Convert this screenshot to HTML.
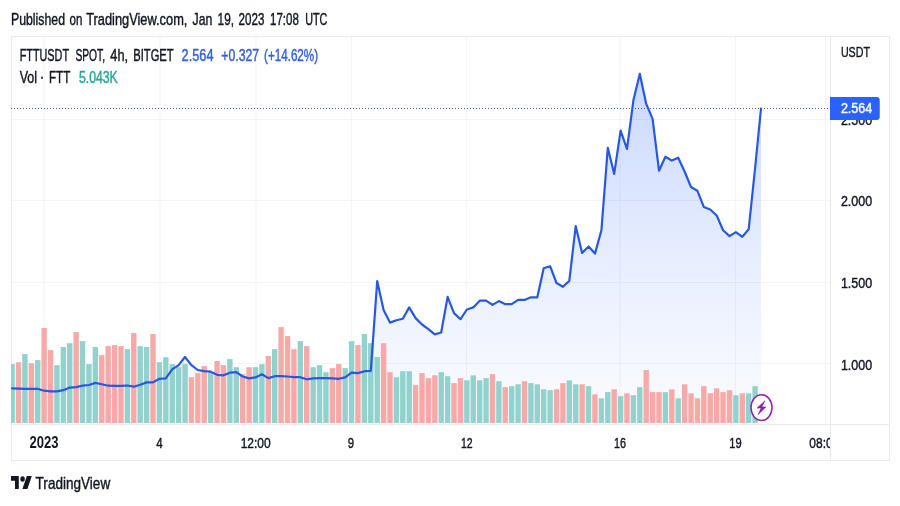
<!DOCTYPE html><html><head><meta charset="utf-8"><title>FTTUSDT chart</title>
<style>html,body{margin:0;padding:0;background:#fff}svg{display:block}text{font-family:"Liberation Sans",sans-serif}</style></head><body>
<svg width="900" height="506" viewBox="0 0 900 506">
<defs><linearGradient id="ag" gradientUnits="userSpaceOnUse" x1="0" y1="37" x2="0" y2="424"><stop offset="0" stop-color="#2962ff" stop-opacity="0.28"/><stop offset="0.55" stop-color="#2962ff" stop-opacity="0.115"/><stop offset="1" stop-color="#2962ff" stop-opacity="0.015"/></linearGradient>
<clipPath id="cp"><rect x="11" y="37" width="819.5" height="387"/></clipPath></defs>
<rect width="900" height="506" fill="#fff"/>
<g fill="#f3f4f7">
<rect x="43.5" y="37" width="1" height="387"/>
<rect x="159.5" y="37" width="1" height="387"/>
<rect x="255.5" y="37" width="1" height="387"/>
<rect x="351.0" y="37" width="1" height="387"/>
<rect x="466.0" y="37" width="1" height="387"/>
<rect x="619.5" y="37" width="1" height="387"/>
<rect x="735.0" y="37" width="1" height="387"/>
<rect x="825.0" y="37" width="1" height="387"/>
<rect x="11" y="119" width="819" height="1"/>
<rect x="11" y="200" width="819" height="1"/>
<rect x="11" y="282" width="819" height="1"/>
<rect x="11" y="363" width="819" height="1"/>
</g>
<g fill="#e9eaee">
<rect x="11" y="36" width="879" height="1"/>
<rect x="11" y="36" width="1" height="425"/>
<rect x="889" y="36" width="1" height="425"/>
<rect x="11" y="460" width="879" height="1"/>
<rect x="11" y="424" width="879" height="1"/>
<rect x="830" y="36" width="1" height="425"/>
</g>
<g clip-path="url(#cp)">
<path d="M12.1 388.3 L18.5 388.6 L24.9 388.8 L31.3 388.8 L37.7 388.8 L44.1 390.7 L50.5 391.4 L56.9 391.4 L63.3 390.2 L69.7 387.6 L76.1 387.1 L82.6 385.7 L89.0 385.0 L95.4 382.9 L101.8 384.3 L108.2 385.7 L114.6 385.9 L121.0 385.9 L127.4 385.5 L133.8 386.7 L140.2 384.8 L146.6 382.4 L153.0 382.4 L159.4 378.8 L165.8 378.4 L172.2 369.3 L178.6 365.1 L185.0 357.0 L191.4 365.1 L197.8 370.0 L204.2 371.2 L210.7 371.7 L217.1 374.8 L223.5 375.3 L229.9 372.7 L236.3 372.2 L242.7 376.5 L249.1 378.4 L255.5 377.4 L261.9 374.3 L268.3 378.1 L274.7 376.2 L281.1 376.2 L287.5 376.5 L293.9 377.2 L300.3 377.2 L306.7 379.3 L313.1 378.4 L319.5 378.1 L325.9 378.1 L332.4 378.4 L338.8 378.8 L345.2 377.4 L351.6 372.7 L358.0 373.1 L364.4 371.2 L370.8 370.8 L377.2 281.0 L383.6 310.0 L390.0 322.6 L396.4 320.2 L402.8 318.8 L409.2 307.4 L415.6 318.1 L422.0 324.5 L428.4 329.2 L434.8 334.4 L441.2 332.5 L447.6 296.9 L454.0 313.1 L460.5 319.2 L466.9 309.5 L473.3 307.4 L479.7 300.7 L486.1 300.6 L492.5 304.9 L498.9 301.1 L505.3 304.2 L511.7 304.2 L518.1 299.9 L524.5 299.9 L530.9 297.3 L537.3 297.3 L543.7 268.3 L550.1 266.2 L556.5 283.0 L562.9 286.8 L569.3 280.9 L575.7 226.1 L582.1 252.9 L588.6 246.5 L595.0 253.6 L601.4 230.3 L607.8 147.8 L614.2 173.9 L620.6 130.7 L627.0 149.0 L633.4 100.3 L639.8 73.8 L646.2 103.9 L652.6 118.9 L659.0 170.7 L665.4 156.7 L671.8 160.6 L678.2 157.7 L684.6 171.5 L691.0 187.0 L697.4 190.8 L703.8 206.9 L710.2 209.5 L716.7 215.5 L723.1 230.2 L729.5 236.1 L735.9 232.1 L742.3 236.8 L748.7 229.2 L755.1 168 L761.0 108.5 L761.0 424 L12.1 424 Z" fill="url(#ag)"/>
<rect x="9.40" y="364.1" width="5.4" height="58.9" fill="#92d2cc"/>
<rect x="15.80" y="362.2" width="5.4" height="60.8" fill="#f7a9a7"/>
<rect x="22.21" y="354.1" width="5.4" height="68.9" fill="#92d2cc"/>
<rect x="28.61" y="363.2" width="5.4" height="59.8" fill="#f7a9a7"/>
<rect x="35.02" y="360.1" width="5.4" height="62.9" fill="#92d2cc"/>
<rect x="41.42" y="328.0" width="5.4" height="95.0" fill="#f7a9a7"/>
<rect x="47.83" y="350.1" width="5.4" height="72.9" fill="#f7a9a7"/>
<rect x="54.23" y="365.1" width="5.4" height="57.9" fill="#92d2cc"/>
<rect x="60.64" y="347.0" width="5.4" height="76.0" fill="#92d2cc"/>
<rect x="67.05" y="343.2" width="5.4" height="79.8" fill="#92d2cc"/>
<rect x="73.45" y="332.1" width="5.4" height="90.9" fill="#f7a9a7"/>
<rect x="79.85" y="341.1" width="5.4" height="81.9" fill="#92d2cc"/>
<rect x="86.26" y="364.1" width="5.4" height="58.9" fill="#92d2cc"/>
<rect x="92.66" y="347.0" width="5.4" height="76.0" fill="#92d2cc"/>
<rect x="99.07" y="355.1" width="5.4" height="67.9" fill="#f7a9a7"/>
<rect x="105.47" y="346.1" width="5.4" height="76.9" fill="#f7a9a7"/>
<rect x="111.88" y="345.1" width="5.4" height="77.9" fill="#f7a9a7"/>
<rect x="118.28" y="346.1" width="5.4" height="76.9" fill="#f7a9a7"/>
<rect x="124.69" y="349.2" width="5.4" height="73.8" fill="#92d2cc"/>
<rect x="131.10" y="333.0" width="5.4" height="90.0" fill="#f7a9a7"/>
<rect x="137.50" y="346.1" width="5.4" height="76.9" fill="#92d2cc"/>
<rect x="143.91" y="347.0" width="5.4" height="76.0" fill="#92d2cc"/>
<rect x="150.31" y="334.0" width="5.4" height="89.0" fill="#f7a9a7"/>
<rect x="156.72" y="362.2" width="5.4" height="60.8" fill="#92d2cc"/>
<rect x="163.12" y="357.2" width="5.4" height="65.8" fill="#92d2cc"/>
<rect x="169.53" y="364.1" width="5.4" height="58.9" fill="#92d2cc"/>
<rect x="175.93" y="367.2" width="5.4" height="55.8" fill="#92d2cc"/>
<rect x="182.34" y="364.1" width="5.4" height="58.9" fill="#92d2cc"/>
<rect x="188.74" y="377.2" width="5.4" height="45.8" fill="#f7a9a7"/>
<rect x="195.15" y="373.1" width="5.4" height="49.9" fill="#f7a9a7"/>
<rect x="201.55" y="366.0" width="5.4" height="57.0" fill="#f7a9a7"/>
<rect x="207.96" y="372.2" width="5.4" height="50.8" fill="#92d2cc"/>
<rect x="214.36" y="361.0" width="5.4" height="62.0" fill="#f7a9a7"/>
<rect x="220.77" y="365.1" width="5.4" height="57.9" fill="#f7a9a7"/>
<rect x="227.17" y="359.1" width="5.4" height="63.9" fill="#92d2cc"/>
<rect x="233.58" y="367.2" width="5.4" height="55.8" fill="#92d2cc"/>
<rect x="239.98" y="374.1" width="5.4" height="48.9" fill="#f7a9a7"/>
<rect x="246.39" y="367.2" width="5.4" height="55.8" fill="#f7a9a7"/>
<rect x="252.79" y="367.2" width="5.4" height="55.8" fill="#92d2cc"/>
<rect x="259.20" y="364.1" width="5.4" height="58.9" fill="#92d2cc"/>
<rect x="265.60" y="356.0" width="5.4" height="67.0" fill="#f7a9a7"/>
<rect x="272.01" y="349.2" width="5.4" height="73.8" fill="#92d2cc"/>
<rect x="278.41" y="327.1" width="5.4" height="95.9" fill="#f7a9a7"/>
<rect x="284.82" y="336.1" width="5.4" height="86.9" fill="#f7a9a7"/>
<rect x="291.22" y="349.2" width="5.4" height="73.8" fill="#f7a9a7"/>
<rect x="297.63" y="341.1" width="5.4" height="81.9" fill="#92d2cc"/>
<rect x="304.03" y="346.1" width="5.4" height="76.9" fill="#f7a9a7"/>
<rect x="310.44" y="367.2" width="5.4" height="55.8" fill="#92d2cc"/>
<rect x="316.84" y="365.1" width="5.4" height="57.9" fill="#92d2cc"/>
<rect x="323.25" y="372.2" width="5.4" height="50.8" fill="#92d2cc"/>
<rect x="329.65" y="368.1" width="5.4" height="54.9" fill="#f7a9a7"/>
<rect x="336.06" y="364.1" width="5.4" height="58.9" fill="#f7a9a7"/>
<rect x="342.46" y="368.1" width="5.4" height="54.9" fill="#92d2cc"/>
<rect x="348.87" y="341.1" width="5.4" height="81.9" fill="#92d2cc"/>
<rect x="355.27" y="345.1" width="5.4" height="77.9" fill="#f7a9a7"/>
<rect x="361.68" y="334.0" width="5.4" height="89.0" fill="#92d2cc"/>
<rect x="368.08" y="343.2" width="5.4" height="79.8" fill="#92d2cc"/>
<rect x="374.49" y="357.0" width="5.4" height="66.0" fill="#92d2cc"/>
<rect x="380.89" y="343.2" width="5.4" height="79.8" fill="#f7a9a7"/>
<rect x="387.30" y="372.2" width="5.4" height="50.8" fill="#f7a9a7"/>
<rect x="393.70" y="377.2" width="5.4" height="45.8" fill="#92d2cc"/>
<rect x="400.11" y="371.2" width="5.4" height="51.8" fill="#92d2cc"/>
<rect x="406.51" y="371.2" width="5.4" height="51.8" fill="#92d2cc"/>
<rect x="412.92" y="385.2" width="5.4" height="37.8" fill="#f7a9a7"/>
<rect x="419.32" y="373.1" width="5.4" height="49.9" fill="#f7a9a7"/>
<rect x="425.73" y="378.1" width="5.4" height="44.9" fill="#f7a9a7"/>
<rect x="432.13" y="375.3" width="5.4" height="47.7" fill="#f7a9a7"/>
<rect x="438.54" y="372.2" width="5.4" height="50.8" fill="#92d2cc"/>
<rect x="444.94" y="376.2" width="5.4" height="46.8" fill="#92d2cc"/>
<rect x="451.35" y="383.1" width="5.4" height="39.9" fill="#f7a9a7"/>
<rect x="457.75" y="378.1" width="5.4" height="44.9" fill="#f7a9a7"/>
<rect x="464.16" y="380.3" width="5.4" height="42.7" fill="#92d2cc"/>
<rect x="470.56" y="375.3" width="5.4" height="47.7" fill="#92d2cc"/>
<rect x="476.97" y="380.3" width="5.4" height="42.7" fill="#92d2cc"/>
<rect x="483.37" y="378.1" width="5.4" height="44.9" fill="#92d2cc"/>
<rect x="489.78" y="374.1" width="5.4" height="48.9" fill="#f7a9a7"/>
<rect x="496.18" y="381.2" width="5.4" height="41.8" fill="#92d2cc"/>
<rect x="502.59" y="387.1" width="5.4" height="35.9" fill="#f7a9a7"/>
<rect x="508.99" y="386.2" width="5.4" height="36.8" fill="#92d2cc"/>
<rect x="515.39" y="384.3" width="5.4" height="38.7" fill="#92d2cc"/>
<rect x="521.80" y="381.2" width="5.4" height="41.8" fill="#f7a9a7"/>
<rect x="528.21" y="383.1" width="5.4" height="39.9" fill="#92d2cc"/>
<rect x="534.61" y="384.3" width="5.4" height="38.7" fill="#92d2cc"/>
<rect x="541.01" y="389.3" width="5.4" height="33.7" fill="#92d2cc"/>
<rect x="547.42" y="390.2" width="5.4" height="32.8" fill="#92d2cc"/>
<rect x="553.83" y="389.3" width="5.4" height="33.7" fill="#f7a9a7"/>
<rect x="560.23" y="383.1" width="5.4" height="39.9" fill="#f7a9a7"/>
<rect x="566.63" y="380.3" width="5.4" height="42.7" fill="#92d2cc"/>
<rect x="573.04" y="384.3" width="5.4" height="38.7" fill="#92d2cc"/>
<rect x="579.45" y="384.3" width="5.4" height="38.7" fill="#f7a9a7"/>
<rect x="585.85" y="386.2" width="5.4" height="36.8" fill="#92d2cc"/>
<rect x="592.25" y="394.3" width="5.4" height="28.7" fill="#f7a9a7"/>
<rect x="598.66" y="398.3" width="5.4" height="24.7" fill="#92d2cc"/>
<rect x="605.07" y="392.1" width="5.4" height="30.9" fill="#92d2cc"/>
<rect x="611.47" y="389.3" width="5.4" height="33.7" fill="#f7a9a7"/>
<rect x="617.88" y="396.2" width="5.4" height="26.8" fill="#92d2cc"/>
<rect x="624.28" y="393.3" width="5.4" height="29.7" fill="#f7a9a7"/>
<rect x="630.68" y="395.2" width="5.4" height="27.8" fill="#92d2cc"/>
<rect x="637.09" y="387.1" width="5.4" height="35.9" fill="#92d2cc"/>
<rect x="643.50" y="370.0" width="5.4" height="53.0" fill="#f7a9a7"/>
<rect x="649.90" y="392.1" width="5.4" height="30.9" fill="#f7a9a7"/>
<rect x="656.30" y="392.1" width="5.4" height="30.9" fill="#f7a9a7"/>
<rect x="662.71" y="392.1" width="5.4" height="30.9" fill="#92d2cc"/>
<rect x="669.12" y="389.3" width="5.4" height="33.7" fill="#f7a9a7"/>
<rect x="675.52" y="398.3" width="5.4" height="24.7" fill="#92d2cc"/>
<rect x="681.92" y="384.3" width="5.4" height="38.7" fill="#f7a9a7"/>
<rect x="688.33" y="393.3" width="5.4" height="29.7" fill="#f7a9a7"/>
<rect x="694.74" y="398.3" width="5.4" height="24.7" fill="#f7a9a7"/>
<rect x="701.14" y="386.2" width="5.4" height="36.8" fill="#f7a9a7"/>
<rect x="707.54" y="393.3" width="5.4" height="29.7" fill="#f7a9a7"/>
<rect x="713.95" y="388.3" width="5.4" height="34.7" fill="#f7a9a7"/>
<rect x="720.36" y="392.1" width="5.4" height="30.9" fill="#f7a9a7"/>
<rect x="726.76" y="390.2" width="5.4" height="32.8" fill="#f7a9a7"/>
<rect x="733.16" y="395.2" width="5.4" height="27.8" fill="#92d2cc"/>
<rect x="739.57" y="393.3" width="5.4" height="29.7" fill="#f7a9a7"/>
<rect x="745.98" y="393.3" width="5.4" height="29.7" fill="#92d2cc"/>
<rect x="752.38" y="386.2" width="5.4" height="36.8" fill="#92d2cc"/>
<path d="M12.1 388.3 L18.5 388.6 L24.9 388.8 L31.3 388.8 L37.7 388.8 L44.1 390.7 L50.5 391.4 L56.9 391.4 L63.3 390.2 L69.7 387.6 L76.1 387.1 L82.6 385.7 L89.0 385.0 L95.4 382.9 L101.8 384.3 L108.2 385.7 L114.6 385.9 L121.0 385.9 L127.4 385.5 L133.8 386.7 L140.2 384.8 L146.6 382.4 L153.0 382.4 L159.4 378.8 L165.8 378.4 L172.2 369.3 L178.6 365.1 L185.0 357.0 L191.4 365.1 L197.8 370.0 L204.2 371.2 L210.7 371.7 L217.1 374.8 L223.5 375.3 L229.9 372.7 L236.3 372.2 L242.7 376.5 L249.1 378.4 L255.5 377.4 L261.9 374.3 L268.3 378.1 L274.7 376.2 L281.1 376.2 L287.5 376.5 L293.9 377.2 L300.3 377.2 L306.7 379.3 L313.1 378.4 L319.5 378.1 L325.9 378.1 L332.4 378.4 L338.8 378.8 L345.2 377.4 L351.6 372.7 L358.0 373.1 L364.4 371.2 L370.8 370.8 L377.2 281.0 L383.6 310.0 L390.0 322.6 L396.4 320.2 L402.8 318.8 L409.2 307.4 L415.6 318.1 L422.0 324.5 L428.4 329.2 L434.8 334.4 L441.2 332.5 L447.6 296.9 L454.0 313.1 L460.5 319.2 L466.9 309.5 L473.3 307.4 L479.7 300.7 L486.1 300.6 L492.5 304.9 L498.9 301.1 L505.3 304.2 L511.7 304.2 L518.1 299.9 L524.5 299.9 L530.9 297.3 L537.3 297.3 L543.7 268.3 L550.1 266.2 L556.5 283.0 L562.9 286.8 L569.3 280.9 L575.7 226.1 L582.1 252.9 L588.6 246.5 L595.0 253.6 L601.4 230.3 L607.8 147.8 L614.2 173.9 L620.6 130.7 L627.0 149.0 L633.4 100.3 L639.8 73.8 L646.2 103.9 L652.6 118.9 L659.0 170.7 L665.4 156.7 L671.8 160.6 L678.2 157.7 L684.6 171.5 L691.0 187.0 L697.4 190.8 L703.8 206.9 L710.2 209.5 L716.7 215.5 L723.1 230.2 L729.5 236.1 L735.9 232.1 L742.3 236.8 L748.7 229.2 L755.1 168 L761.0 108.5" fill="none" stroke="#2858e0" stroke-width="2.2" stroke-linejoin="round" stroke-linecap="round"/>
</g>
<path d="M11 108.5 H830" stroke="#4c5aa8" stroke-width="1" stroke-dasharray="1 2" fill="none"/>
<ellipse cx="761.5" cy="407.6" rx="10.5" ry="12.8" fill="#fff" stroke="#8e24aa" stroke-width="1.5"/>
<path d="M765 400.7 L757 408.1 L761 408.1 L758 414.8 L766 406.9 L762 406.9 Z" fill="#8e24aa" stroke="#8e24aa" stroke-width="0.5" stroke-linejoin="round"/>
<path d="M830 97 H876 Q879.5 97 879.5 100 V117 Q879.5 120 876 120 H830 Z" fill="#2962ff"/>
<text x="11.0" y="25.3" font-size="15.7" textLength="54.0" lengthAdjust="spacingAndGlyphs" fill="#131722" stroke="#131722" stroke-width="0.42">Published</text>
<text x="69.6" y="25.3" font-size="15.7" textLength="12.8" lengthAdjust="spacingAndGlyphs" fill="#131722" stroke="#131722" stroke-width="0.42">on</text>
<text x="86.2" y="25.3" font-size="15.7" textLength="101.2" lengthAdjust="spacingAndGlyphs" fill="#131722" stroke="#131722" stroke-width="0.42">TradingView.com,</text>
<text x="192.6" y="25.3" font-size="15.7" textLength="19.8" lengthAdjust="spacingAndGlyphs" fill="#131722" stroke="#131722" stroke-width="0.42">Jan</text>
<text x="217.6" y="25.3" font-size="15.7" textLength="16.4" lengthAdjust="spacingAndGlyphs" fill="#131722" stroke="#131722" stroke-width="0.42">19,</text>
<text x="238.6" y="25.3" font-size="15.7" textLength="25.8" lengthAdjust="spacingAndGlyphs" fill="#131722" stroke="#131722" stroke-width="0.42">2023</text>
<text x="270.0" y="25.3" font-size="15.7" textLength="28.8" lengthAdjust="spacingAndGlyphs" fill="#131722" stroke="#131722" stroke-width="0.42">17:08</text>
<text x="305.2" y="25.3" font-size="15.7" textLength="22.2" lengthAdjust="spacingAndGlyphs" fill="#131722" stroke="#131722" stroke-width="0.42">UTC</text>
<text x="19.7" y="60.7" font-size="15.6" textLength="49.3" lengthAdjust="spacingAndGlyphs" fill="#131722" stroke="#131722" stroke-width="0.42">FTTUSDT</text>
<text x="75.4" y="60.7" font-size="15.6" textLength="29.7" lengthAdjust="spacingAndGlyphs" fill="#131722" stroke="#131722" stroke-width="0.42">SPOT,</text>
<text x="110.3" y="60.7" font-size="15.6" textLength="17.8" lengthAdjust="spacingAndGlyphs" fill="#131722" stroke="#131722" stroke-width="0.42">4h,</text>
<text x="133.2" y="60.7" font-size="15.6" textLength="40.5" lengthAdjust="spacingAndGlyphs" fill="#131722" stroke="#131722" stroke-width="0.42">BITGET</text>
<text x="181.6" y="60.7" font-size="15.6" textLength="31.9" lengthAdjust="spacingAndGlyphs" fill="#3561d8" stroke="#3561d8" stroke-width="0.42">2.564</text>
<text x="221.3" y="60.7" font-size="15.6" textLength="37.8" lengthAdjust="spacingAndGlyphs" fill="#3561d8" stroke="#3561d8" stroke-width="0.42">+0.327</text>
<text x="264.0" y="60.7" font-size="15.6" textLength="54.1" lengthAdjust="spacingAndGlyphs" fill="#3561d8" stroke="#3561d8" stroke-width="0.42">(+14.62%)</text>
<text x="19.7" y="82.7" font-size="15.6" textLength="17.3" lengthAdjust="spacingAndGlyphs" fill="#131722" stroke="#131722" stroke-width="0.42">Vol</text>
<text x="49.0" y="82.7" font-size="15.6" textLength="21.3" lengthAdjust="spacingAndGlyphs" fill="#131722" stroke="#131722" stroke-width="0.42">FTT</text>
<text x="40.6" y="82.8" font-size="17" font-weight="bold" fill="#131722" textLength="3.6" lengthAdjust="spacingAndGlyphs">·</text>
<text x="78.9" y="82.7" font-size="15.6" textLength="38.9" lengthAdjust="spacingAndGlyphs" fill="#26a69a" stroke="#26a69a" stroke-width="0.42">5.043K</text>
<text x="840.9" y="57.1" font-size="14.8" textLength="29.1" lengthAdjust="spacingAndGlyphs" fill="#131722" stroke="#131722" stroke-width="0.42">USDT</text>
<text fill="#131722" x="840.9" y="124.7" stroke="#131722" stroke-width="0.42" font-size="14.8" textLength="31.2" lengthAdjust="spacingAndGlyphs">2.500</text>
<path d="M830.5 97 H876 Q879.5 97 879.5 100 V117 Q879.5 120 876 120 H830.5 Z" fill="#2962ff"/>
<text x="840.9" y="113.3" font-size="15.3" textLength="31.4" lengthAdjust="spacingAndGlyphs" fill="#fff" stroke="#fff" stroke-width="0.42">2.564</text>
<text x="840.9" y="205.8" font-size="14.8" textLength="31.2" lengthAdjust="spacingAndGlyphs" fill="#131722" stroke="#131722" stroke-width="0.42">2.000</text>
<text x="840.9" y="287.8" font-size="14.8" textLength="31.2" lengthAdjust="spacingAndGlyphs" fill="#131722" stroke="#131722" stroke-width="0.42">1.500</text>
<text x="840.9" y="369.5" font-size="14.8" textLength="31.2" lengthAdjust="spacingAndGlyphs" fill="#131722" stroke="#131722" stroke-width="0.42">1.000</text>
<text x="29.5" y="448.0" font-size="15.8" textLength="29" lengthAdjust="spacingAndGlyphs" fill="#131722" font-weight="bold">2023</text>
<text x="156.3" y="447.8" font-size="14.8" textLength="6.4" lengthAdjust="spacingAndGlyphs" fill="#131722" stroke="#131722" stroke-width="0.42">4</text>
<text x="240.7" y="447.8" font-size="14.8" textLength="30" lengthAdjust="spacingAndGlyphs" fill="#131722" stroke="#131722" stroke-width="0.42">12:00</text>
<text x="347.7" y="447.8" font-size="14.8" textLength="6.3" lengthAdjust="spacingAndGlyphs" fill="#131722" stroke="#131722" stroke-width="0.42">9</text>
<text x="461" y="447.8" font-size="14.8" textLength="11.7" lengthAdjust="spacingAndGlyphs" fill="#131722" stroke="#131722" stroke-width="0.42">12</text>
<text x="614" y="447.8" font-size="14.8" textLength="12" lengthAdjust="spacingAndGlyphs" fill="#131722" stroke="#131722" stroke-width="0.42">16</text>
<text x="729.3" y="447.8" font-size="14.8" textLength="12.4" lengthAdjust="spacingAndGlyphs" fill="#131722" stroke="#131722" stroke-width="0.42">19</text>
<clipPath id="tc"><rect x="800" y="425" width="30" height="35"/></clipPath>
<g clip-path="url(#tc)"><text fill="#131722" x="809.3" y="447.8" stroke="#131722" stroke-width="0.42" font-size="14.8" textLength="30" lengthAdjust="spacingAndGlyphs">08:00</text></g>
<g fill="#131722"><path d="M11 476 H18.8 V489 H15 V480.7 H11 Z"/><ellipse cx="22.55" cy="479" rx="2.25" ry="2.7"/><path d="M26.85 476 H31.8 L27.4 489 H22.4 Z"/></g>
<text x="35.6" y="488.8" font-size="16.5" textLength="74.6" lengthAdjust="spacingAndGlyphs" fill="#131722" stroke="#131722" stroke-width="0.42">TradingView</text>
</svg></body></html>
